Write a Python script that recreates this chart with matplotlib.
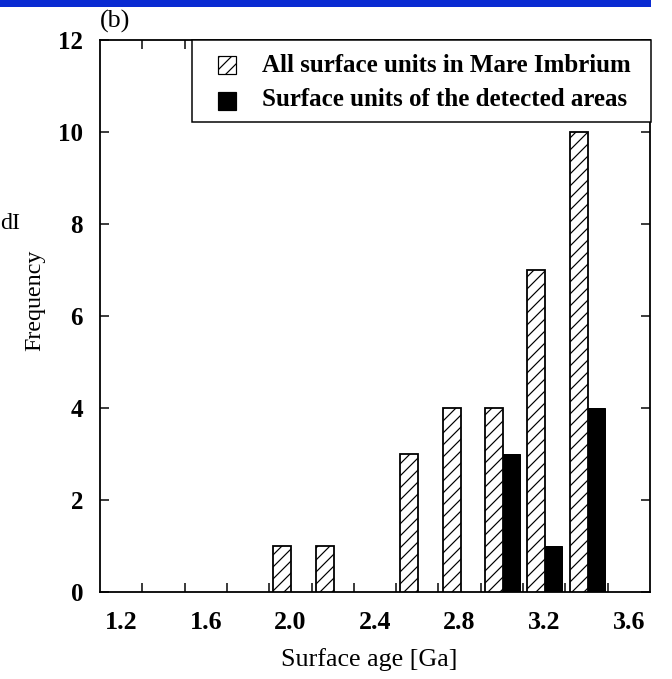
import matplotlib
matplotlib.use("Agg")
import matplotlib.pyplot as plt
from matplotlib.patches import Rectangle
import numpy as np

# ---- data ----
ages = [2.0, 2.2, 2.6, 2.8, 3.0, 3.2, 3.4]          # bin centres [Ga]
all_units = [1, 1, 3, 4, 4, 7, 10]                  # all surface units in Mare Imbrium
detected = [0, 0, 0, 0, 3, 1, 4]                    # surface units of the detected areas
xtick_labels = ["1.2", "1.6", "2.0", "2.4", "2.8", "3.2", "3.6"]
ytick_vals = [0, 2, 4, 6, 8, 10, 12]
legend_labels = ["All surface units in Mare Imbrium", "Surface units of the detected areas"]

DPI = 72
W, H = 672, 679
plt.rcParams["font.family"] = ["Liberation Serif", "DejaVu Serif"]
plt.rcParams["hatch.linewidth"] = 1.2

fig = plt.figure(figsize=(W / DPI, H / DPI), dpi=DPI)
ax = fig.add_axes([100 / W, 1 - 592 / H, 550 / W, 552 / H])


def fx(px):
    return px / W


def fy(py):
    return 1 - py / H


# blue strip at top
fig.patches.append(Rectangle((0, fy(7)), fx(651), 7 / H, transform=fig.transFigure,
                             facecolor="#0a2bd2", edgecolor="none", zorder=10))

bw_h = 0.085
bw_b = 0.08
ax.bar([a - 0.08 for a in ages], all_units, width=bw_h, align="edge",
       facecolor="white", edgecolor="black", hatch="//", linewidth=1.8, zorder=3)
det_x = [a + 0.005 for a, d in zip(ages, detected) if d > 0]
det_y = [d for d in detected if d > 0]
ax.bar(det_x, det_y, width=bw_b, align="edge", facecolor="black", edgecolor="black",
       linewidth=1.0, zorder=3)

ax.set_xlim(1.1, 3.7)
ax.set_ylim(0, 12)
ax.set_xticks([float(t) for t in xtick_labels])
ax.set_xticklabels(xtick_labels, fontsize=26, fontweight="bold")
ax.set_xticks(np.arange(1.3, 3.51, 0.2), minor=True)
ax.tick_params(axis="x", which="major", length=0, pad=19)
ax.tick_params(axis="x", which="minor", direction="in", length=9, width=1.5, top=True)
ax.set_yticks(ytick_vals)
ax.set_yticklabels([str(v) for v in ytick_vals], fontsize=25, fontweight="bold")
ax.tick_params(axis="y", which="major", direction="in", length=9, width=1.5,
               right=True, pad=17)
for s in ax.spines.values():
    s.set_linewidth(1.8)

ax.set_xlabel("Surface age [Ga]", fontsize=26)
ax.xaxis.set_label_coords(0.49, (592 - 660) / 552)
ax.xaxis.label.set_va("center")
ax.set_ylabel("Frequency", fontsize=24)
ax.yaxis.set_label_coords((35 - 100) / 550, (592 - 300) / 552)
ax.yaxis.label.set_va("center")

# legend (drawn by hand to match the box geometry)
fig.patches.append(Rectangle((fx(192), fy(122)), fx(651) - fx(192), 82 / H,
                             transform=fig.transFigure, facecolor="white",
                             edgecolor="black", linewidth=1.5, zorder=5))
fig.patches.append(Rectangle((fx(218), fy(74)), 18 / W, 18 / H, transform=fig.transFigure,
                             facecolor="white", edgecolor="black", hatch="//",
                             linewidth=1.2, zorder=6))
fig.patches.append(Rectangle((fx(218), fy(110)), 18 / W, 18 / H, transform=fig.transFigure,
                             facecolor="black", edgecolor="black", linewidth=1.2, zorder=6))
fig.text(fx(262), fy(65), legend_labels[0], fontsize=25, fontweight="bold",
         ha="left", va="center", zorder=7)
fig.text(fx(262), fy(100), legend_labels[1], fontsize=25, fontweight="bold",
         ha="left", va="center", zorder=7)

fig.text(fx(100), fy(21), "(b)", fontsize=26, ha="left", va="center")
fig.text(0, fy(224), "dI", fontsize=24, ha="left", va="center")

fig.savefig("out.png", dpi=DPI)
